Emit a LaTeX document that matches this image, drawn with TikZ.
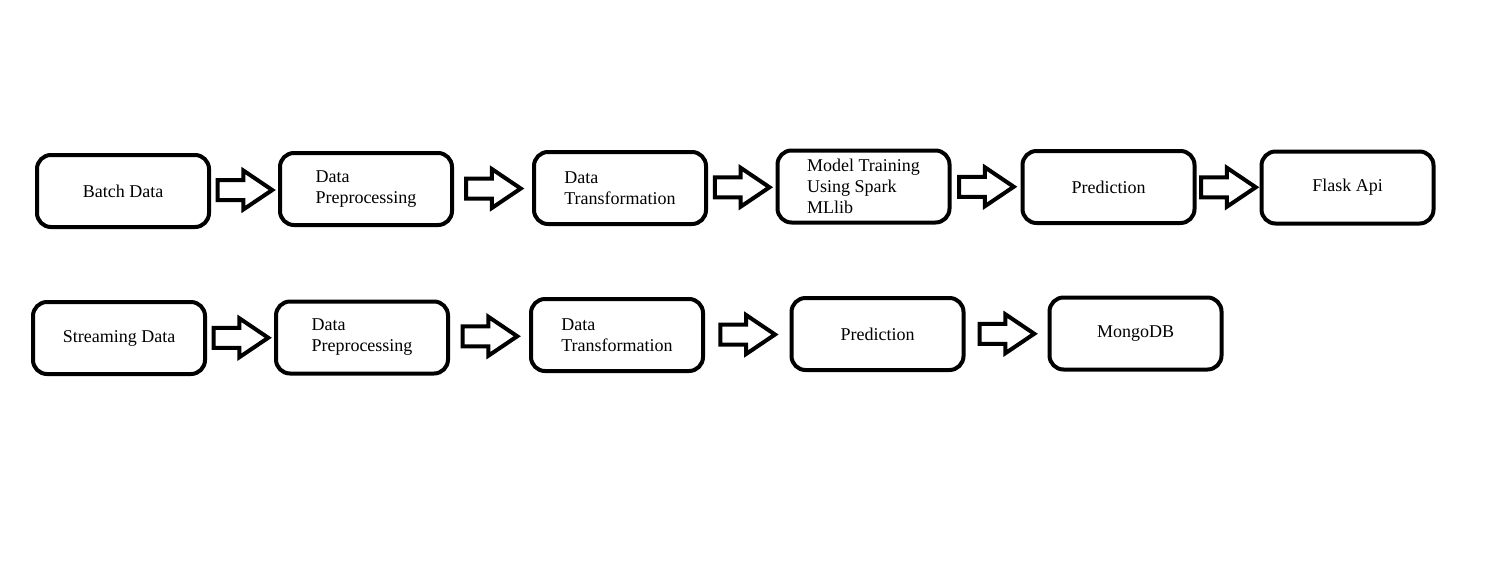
\documentclass[tikz,border=0pt]{standalone}
\usepackage{fontspec}
\setmainfont{Liberation Serif}
\usetikzlibrary{calc, positioning, shapes.arrows}

\begin{document}
\begin{tikzpicture}[
                x=0.75pt, y=-0.75pt,
                stagebox/.style={draw, line width=3pt, rounded corners=10.5pt,
                    minimum width=129pt, minimum height=54pt, align=left,
                    font=\fontsize{13.5}{15.75}\selectfont},
                flowarrow/.style={draw, line width=3pt, single arrow,
                    inner sep=6pt, minimum height=41pt, xshift=-5.25pt,
                    single arrow head extend=7.1pt,
                    single arrow tip angle=68, single arrow head indent=0pt}
            ]
                \path[fill=white, use as bounding box] (0, 0) rectangle (1508, 572);
                % batch pipeline
                \node[stagebox] (batch) at (123, 191) {Batch Data};
                \node[stagebox] (bprep) at (366, 189) {Data\\Preprocessing};
                \node[stagebox] (btrans) at (620, 188) {Data\\Transformation};
                \node[stagebox] (train) at (863.5, 186.5) {Model Training\\Using Spark\\MLlib};
                \node[stagebox] (bpred) at (1108.5, 187) {Prediction};
                \node[stagebox] (flask) at (1347.5, 187.5) {Flask Api};
                % streaming pipeline
                \node[stagebox] (stream) at (119, 338) {Streaming Data};
                \node[stagebox] (sprep) at (362, 337.5) {Data\\Preprocessing};
                \node[stagebox] (strans) at (617, 335) {Data\\Transformation};
                \node[stagebox] (spred) at (877.5, 334) {Prediction};
                \node[stagebox] (mongo) at (1135.5, 333.5) {MongoDB};
                % block arrows
                \node[flowarrow] (a1) at ($(batch.east)!0.5!(bprep.west)$) {};
                \node[flowarrow] (a2) at ($(bprep.east)!0.5!(btrans.west)$) {};
                \node[flowarrow] (a3) at ($(btrans.east)!0.5!(train.west)$) {};
                \node[flowarrow] (a4) at ($(train.east)!0.5!(bpred.west)$) {};
                \node[flowarrow] (a5) at ($(bpred.east)!0.5!(flask.west)$) {};
                \node[flowarrow] (a6) at ($(stream.east)!0.5!(sprep.west)$) {};
                \node[flowarrow] (a7) at ($(sprep.east)!0.5!(strans.west)$) {};
                \node[flowarrow] (a8) at ($(strans.east)!0.5!(spred.west)$) {};
                \node[flowarrow] (a9) at ($(spred.east)!0.5!(mongo.west)$) {};
            \end{tikzpicture}
\end{document}
